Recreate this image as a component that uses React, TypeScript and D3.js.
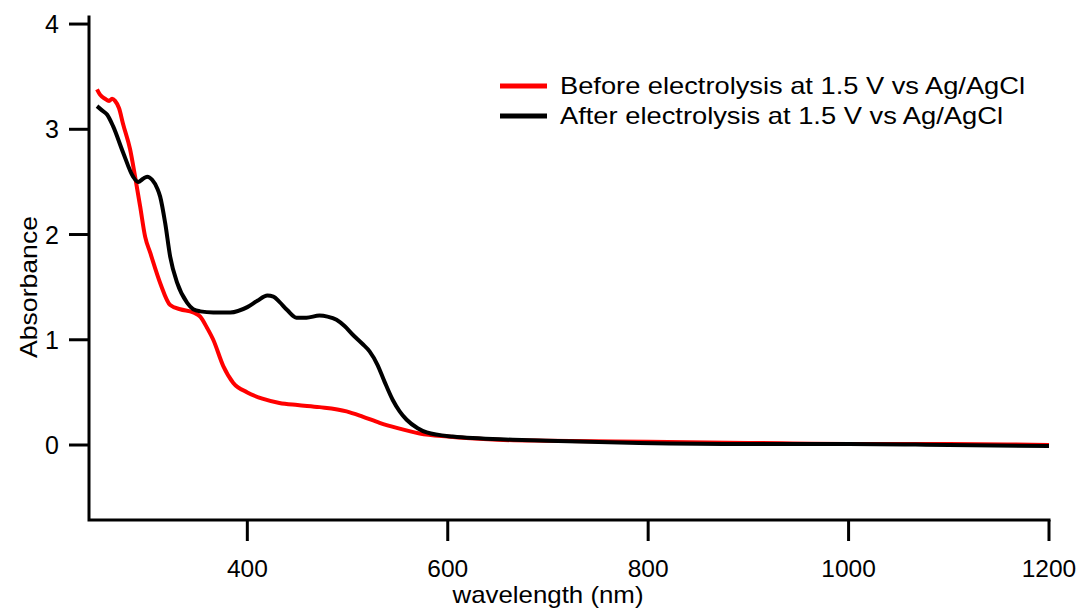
import React from "react";
import * as d3 from "d3";

const beforeNm = [250,253,258,262,265,268,272,276,283,288,293,298,303,313,323,333,346,353,360,366,376,386,400,415,432,450,472,499,515,532,550,572,600,650,700,800,900,1000,1100,1200];
const beforeAbs = [3.38,3.33,3.29,3.27,3.29,3.27,3.20,3.05,2.81,2.55,2.27,1.98,1.83,1.54,1.33,1.29,1.26,1.22,1.11,1.00,0.75,0.59,0.50,0.44,0.40,0.38,0.36,0.32,0.27,0.21,0.16,0.11,0.08,0.05,0.04,0.03,0.02,0.01,0.01,0.00];

const afterNm = [250,255,260,266,276,286,291,296,300,305,310,313,318,323,330,340,346,353,366,383,400,410,420,426,432,440,449,459,472,480,489,497,505,515,522,530,537,545,552,559,570,579,605,665,700,791,900,1000,1100,1200];
const afterAbs = [3.22,3.18,3.14,3.03,2.78,2.55,2.50,2.53,2.55,2.52,2.44,2.36,2.11,1.79,1.54,1.35,1.29,1.27,1.26,1.26,1.31,1.37,1.42,1.41,1.36,1.28,1.21,1.21,1.23,1.22,1.19,1.13,1.05,0.96,0.89,0.76,0.60,0.43,0.32,0.24,0.16,0.12,0.08,0.05,0.04,0.02,0.01,0.01,0.00,-0.01];

const xTicks = [400, 600, 800, 1000, 1200];
const yTicks = [0, 1, 2, 3, 4];
const seriesNames = ["Before electrolysis at 1.5 V vs Ag/AgCl", "After electrolysis at 1.5 V vs Ag/AgCl"];
const seriesColors = ["#ff0000", "#000000"];

export default function App() {
  const W = 1080, H = 608;
  const x = d3.scaleLinear().domain([242, 1200]).range([89, 1049]);
  const y = d3.scaleLinear().domain([-0.7126, 4.067]).range([520, 17]);
  const line = d3.line<[number, number]>().x(d => x(d[0])).y(d => y(d[1])).curve(d3.curveMonotoneX);
  const before = beforeNm.map((n, i) => [n, beforeAbs[i]] as [number, number]);
  const after = afterNm.map((n, i) => [n, afterAbs[i]] as [number, number]);
  const font = "Liberation Sans, Arial, sans-serif";
  const legendWidths = [465, 443];
  return (
    <svg width={W} height={H} style={{ position: "absolute", left: 0, top: 0, background: "#fff" }} fontFamily={font}>
      <path d={line(before) || ""} fill="none" stroke={seriesColors[0]} strokeWidth={4} strokeLinejoin="round" />
      <path d={line(after) || ""} fill="none" stroke={seriesColors[1]} strokeWidth={4} strokeLinejoin="round" />
      <path d={`M${x(242)},${y(4.067)}V${y(-0.7126)}H${x(1200)}`} fill="none" stroke="#000" strokeWidth={3} strokeLinecap="square" />
      {yTicks.map(t => (
        <g key={"y" + t}>
          <line x1={69} x2={x(242)} y1={y(t)} y2={y(t)} stroke="#000" strokeWidth={3} />
          <text x={59} y={y(t) + 9} textAnchor="end" fontSize={25}>{t}</text>
        </g>
      ))}
      {xTicks.map(t => (
        <g key={"x" + t}>
          <line x1={x(t)} x2={x(t)} y1={520} y2={541} stroke="#000" strokeWidth={3} />
          <text x={x(t)} y={577} textAnchor="middle" fontSize={24.5}>{t}</text>
        </g>
      ))}
      <text x={548} y={603} textAnchor="middle" fontSize={24} textLength={191} lengthAdjust="spacingAndGlyphs">wavelength (nm)</text>
      <text transform={`translate(37,287) rotate(-90)`} textAnchor="middle" fontSize={24} textLength={142} lengthAdjust="spacingAndGlyphs">Absorbance</text>
      {seriesNames.map((s, i) => (
        <g key={s}>
          <line x1={500} x2={547} y1={86 + i * 30} y2={86 + i * 30} stroke={seriesColors[i]} strokeWidth={5} />
          <text x={560} y={94 + i * 30} fontSize={24} textLength={legendWidths[i]} lengthAdjust="spacingAndGlyphs">{s}</text>
        </g>
      ))}
    </svg>
  );
}
